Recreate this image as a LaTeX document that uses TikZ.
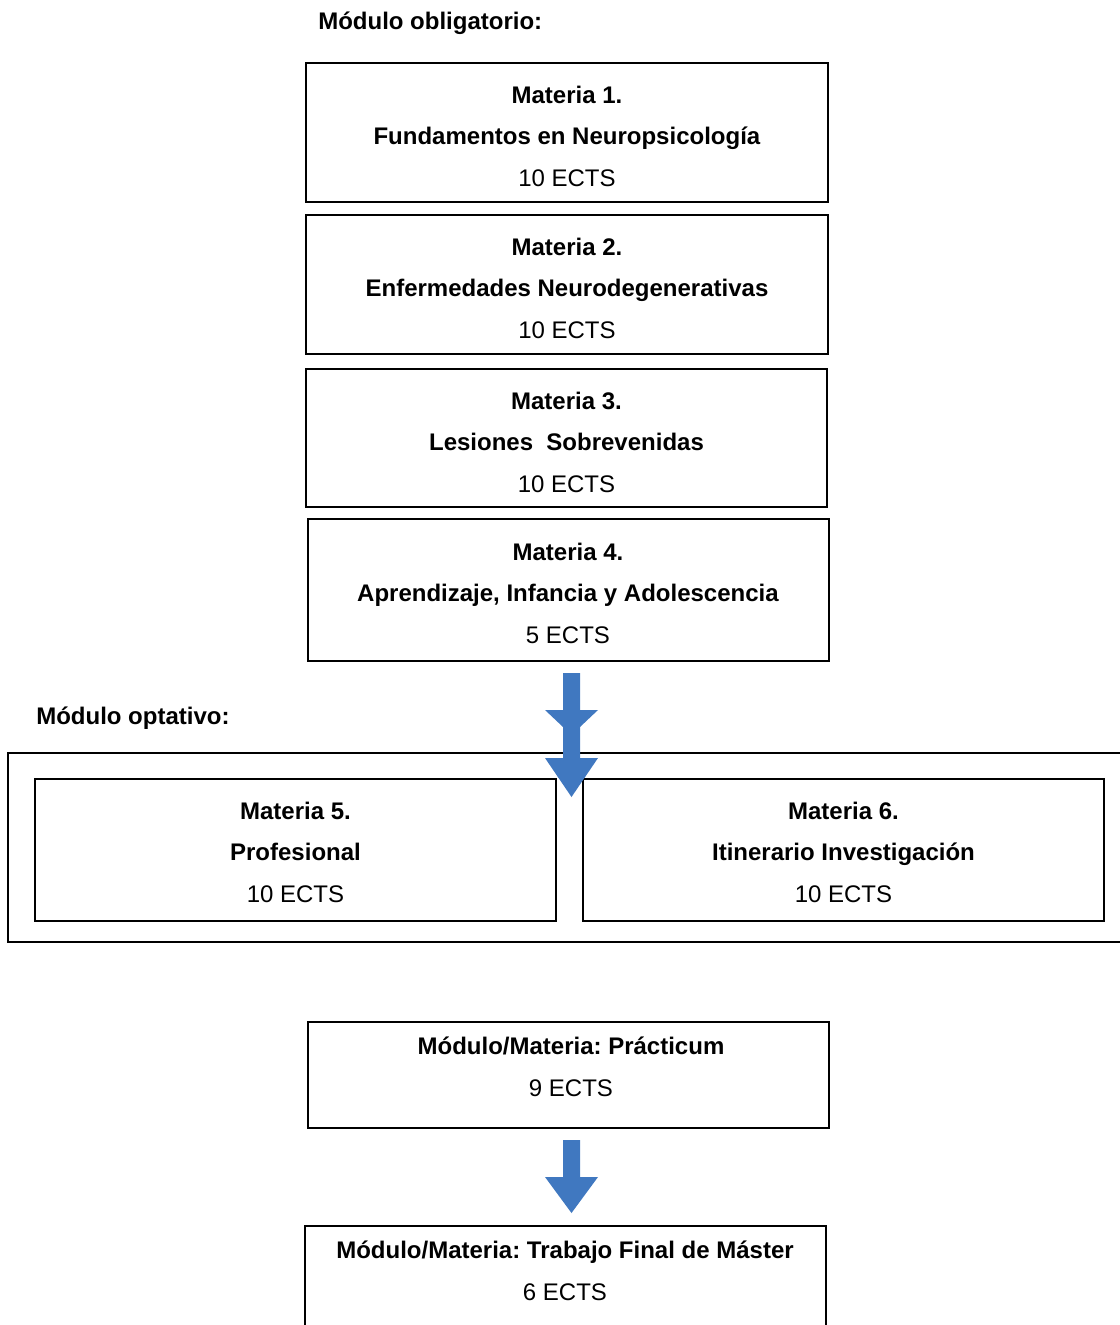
\documentclass[tikz,border=0pt]{standalone}
\usepackage{fontspec}
\setmainfont{Liberation Sans}
\frenchspacing
\definecolor{arrowblue}{RGB}{64,120,192}
\begin{document}
\begin{tikzpicture}[x=0.75pt,y=-0.75pt,
  boxnode/.style={draw=black, line width=1.4pt, inner sep=0pt},
  txt/.style={align=center, inner sep=0pt, font=\fontsize{18}{31.1}\selectfont},
  lbl/.style={anchor=base west, inner sep=0pt, font=\bfseries\fontsize{18}{22}\selectfont},
  blockarrow/.style={fill=arrowblue, draw=none}]
\useasboundingbox (0,0) rectangle (1120,1325);

% headings
\node[lbl] (hob) at (318,29.5) {Módulo obligatorio:};
\node[lbl] (hop) at (36,724.5) {Módulo optativo:};

% obligatory boxes
\node[boxnode, minimum width=391.5pt, minimum height=104.25pt] (m1) at (567,132.5) {};
\node[txt] (t1) at (567,136) {\textbf{Materia 1.}\\\textbf{Fundamentos en Neuropsicología}\\10 ECTS};

\node[boxnode, minimum width=391.5pt, minimum height=104.25pt] (m2) at (567,284.5) {};
\node[txt] (t2) at (567,288) {\textbf{Materia 2.}\\\textbf{Enfermedades Neurodegenerativas}\\10 ECTS};

\node[boxnode, minimum width=390.75pt, minimum height=103.5pt] (m3) at (566.5,438) {};
\node[txt] (t3) at (566.5,442) {\textbf{Materia 3.}\\\textbf{Lesiones\ \ Sobrevenidas}\\10 ECTS};

\node[boxnode, minimum width=390.75pt, minimum height=106.5pt] (m4) at (568.5,590) {};
\node[txt] (t4) at (568,593) {\textbf{Materia 4.}\\\textbf{Aprendizaje, Infancia y Adolescencia}\\5 ECTS};

% optional module
\node[boxnode, minimum width=841.5pt, minimum height=141.75pt] (opt) at (569,847.5) {};
\node[boxnode, minimum width=390.75pt, minimum height=106.5pt] (m5) at (295.5,850) {};
\node[txt] (t5) at (295.5,852) {\textbf{Materia 5.}\\\textbf{Profesional}\\10 ECTS};
\node[boxnode, minimum width=390.75pt, minimum height=106.5pt] (m6) at (843.5,850) {};
\node[txt] (t6) at (843.5,852) {\textbf{Materia 6.}\\\textbf{Itinerario Investigación}\\10 ECTS};

% practicum and TFM
\node[boxnode, minimum width=390.75pt, minimum height=79.5pt] (pr) at (568.5,1075) {};
\node[txt] (tpr) at (571,1067) {\textbf{Módulo/Materia: Prácticum}\\9 ECTS};
\node[boxnode, minimum width=390.75pt, minimum height=85.5pt] (tfm) at (565.5,1283) {};
\node[txt] (ttfm) at (565,1271) {\textbf{Módulo/Materia: Trabajo Final de Máster}\\6 ECTS};

% block arrows
\fill[blockarrow] (563,673) -- (580,673) -- (580,710) -- (598,710) -- (571.5,735) -- (545,710) -- (563,710) -- cycle;
\fill[blockarrow] (563,725) -- (580,725) -- (580,758) -- (598,758) -- (571.5,797) -- (545,758) -- (563,758) -- cycle;
\fill[blockarrow] (563,1140) -- (580,1140) -- (580,1177) -- (598,1177) -- (571.5,1213) -- (545,1177) -- (563,1177) -- cycle;
\end{tikzpicture}
\end{document}
